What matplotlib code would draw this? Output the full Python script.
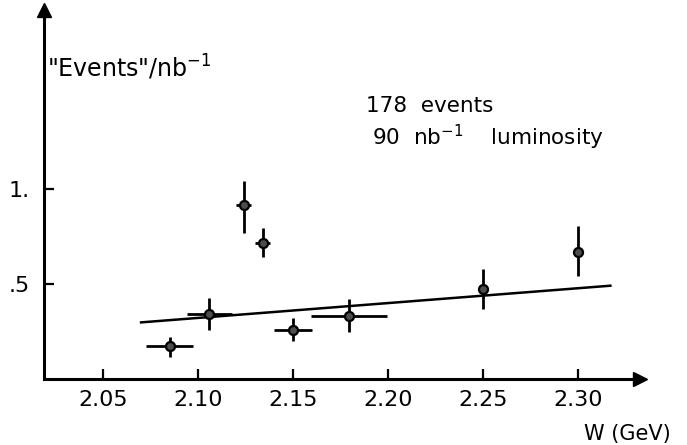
import matplotlib.pyplot as plt

# measured points: W (GeV), "events"/nb^-1, errors
w = [2.085, 2.106, 2.124, 2.134, 2.150, 2.1795, 2.250, 2.300]
rate = [0.174, 0.342, 0.916, 0.714, 0.258, 0.333, 0.472, 0.667]
w_err = [0.0125, 0.012, 0.004, 0.004, 0.0098, 0.020, 0.0, 0.0]
rate_lo = [0.057, 0.084, 0.146, 0.074, 0.056, 0.087, 0.105, 0.125]
rate_hi = [0.049, 0.084, 0.128, 0.081, 0.061, 0.088, 0.105, 0.138]

# straight-line fit through the data
fit_w = [2.070, 2.317]
fit_y = [0.298, 0.491]

x_ticks = [2.05, 2.10, 2.15, 2.20, 2.25, 2.30]
x_labels = ["2.05", "2.10", "2.15", "2.20", "2.25", "2.30"]
y_ticks = [0.5, 1.0]
y_labels = [".5", "1."]

fig = plt.figure(figsize=(6.87, 4.45), dpi=100)
ax = fig.add_axes([44 / 687, 66 / 445, 596 / 687, 369 / 445])
ax.set_xlim(2.0189, 2.3326)
ax.set_ylim(0, 1.942)

ax.errorbar(w, rate, yerr=[rate_lo, rate_hi], xerr=w_err, fmt='o', color='black',
            ms=6.5, mfc='0.3', mec='black', mew=1.6, elinewidth=2, capsize=0)
ax.plot(fit_w, fit_y, color='black', lw=1.8)

for side in ['top', 'right']:
    ax.spines[side].set_visible(False)
for side in ['left', 'bottom']:
    ax.spines[side].set_linewidth(2.2)

# arrow heads on the axes
ax.plot(1, 0, '>', color='black', ms=10, transform=ax.transAxes, clip_on=False)
ax.plot(0, 1, '^', color='black', ms=10, transform=ax.transAxes, clip_on=False)

ax.set_xticks(x_ticks)
ax.set_xticklabels(x_labels)
ax.set_yticks(y_ticks)
ax.set_yticklabels(y_labels)
ax.tick_params(direction='in', length=7, width=1.6, labelsize=16, pad=8)
ax.tick_params(axis='y', pad=10)

fig.text(47, 445 - 77, '"Events"/nb$^{-1}$', fontsize=17, transform=None)
fig.text(366, 445 - 112, '178  events', fontsize=15.5, transform=None)
fig.text(372, 445 - 145, '90  nb$^{-1}$    luminosity', fontsize=15.5, transform=None)
fig.text(584, 5, 'W (GeV)', fontsize=15, transform=None)

fig.savefig('out.png', dpi=100)
